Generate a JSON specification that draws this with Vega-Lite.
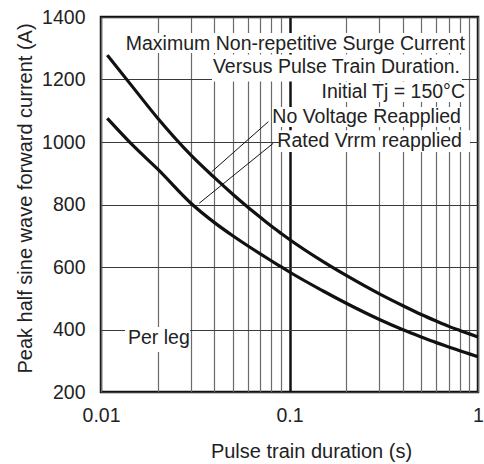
{
  "$schema": "https://vega.github.io/schema/vega-lite/v6.json",
  "width": 377,
  "height": 375,
  "autosize": {"type": "none"},
  "padding": {"left": 101, "top": 17, "right": 6, "bottom": 72},
  "background": "white",
  "config": {
    "view": {"stroke": "#111", "strokeWidth": 2.5},
    "font": "Liberation Sans",
    "axis": {
      "labelFont": "Liberation Sans",
      "titleFont": "Liberation Sans",
      "labelFontSize": 19.5,
      "titleFontSize": 20,
      "titleFontWeight": "normal",
      "labelColor": "#222",
      "titleColor": "#222",
      "ticks": false,
      "domain": false,
      "gridColor": "#6a6a6a",
      "gridWidth": 1.2,
      "gridOpacity": 1
    }
  },
  "datasets": {
    "curves": [
      {"series": "No Voltage Reapplied", "x": 0.0108, "y": 1278},
      {"series": "No Voltage Reapplied", "x": 0.015, "y": 1170},
      {"series": "No Voltage Reapplied", "x": 0.02, "y": 1076},
      {"series": "No Voltage Reapplied", "x": 0.03, "y": 958},
      {"series": "No Voltage Reapplied", "x": 0.04, "y": 886},
      {"series": "No Voltage Reapplied", "x": 0.05, "y": 833},
      {"series": "No Voltage Reapplied", "x": 0.06, "y": 792},
      {"series": "No Voltage Reapplied", "x": 0.07, "y": 759},
      {"series": "No Voltage Reapplied", "x": 0.08, "y": 731},
      {"series": "No Voltage Reapplied", "x": 0.09, "y": 708},
      {"series": "No Voltage Reapplied", "x": 0.1, "y": 688},
      {"series": "No Voltage Reapplied", "x": 0.15, "y": 618},
      {"series": "No Voltage Reapplied", "x": 0.2, "y": 573},
      {"series": "No Voltage Reapplied", "x": 0.3, "y": 514},
      {"series": "No Voltage Reapplied", "x": 0.4, "y": 476},
      {"series": "No Voltage Reapplied", "x": 0.5, "y": 448},
      {"series": "No Voltage Reapplied", "x": 0.6, "y": 427},
      {"series": "No Voltage Reapplied", "x": 0.7, "y": 410},
      {"series": "No Voltage Reapplied", "x": 0.8, "y": 397},
      {"series": "No Voltage Reapplied", "x": 0.9, "y": 386},
      {"series": "No Voltage Reapplied", "x": 1, "y": 376},
      {"series": "Rated Vrrm reapplied", "x": 0.0108, "y": 1076},
      {"series": "Rated Vrrm reapplied", "x": 0.015, "y": 985},
      {"series": "Rated Vrrm reapplied", "x": 0.02, "y": 913},
      {"series": "Rated Vrrm reapplied", "x": 0.03, "y": 804},
      {"series": "Rated Vrrm reapplied", "x": 0.04, "y": 742},
      {"series": "Rated Vrrm reapplied", "x": 0.05, "y": 700},
      {"series": "Rated Vrrm reapplied", "x": 0.06, "y": 668},
      {"series": "Rated Vrrm reapplied", "x": 0.07, "y": 642},
      {"series": "Rated Vrrm reapplied", "x": 0.08, "y": 620},
      {"series": "Rated Vrrm reapplied", "x": 0.09, "y": 601},
      {"series": "Rated Vrrm reapplied", "x": 0.1, "y": 584},
      {"series": "Rated Vrrm reapplied", "x": 0.15, "y": 524},
      {"series": "Rated Vrrm reapplied", "x": 0.2, "y": 484},
      {"series": "Rated Vrrm reapplied", "x": 0.3, "y": 432},
      {"series": "Rated Vrrm reapplied", "x": 0.4, "y": 399},
      {"series": "Rated Vrrm reapplied", "x": 0.5, "y": 376},
      {"series": "Rated Vrrm reapplied", "x": 0.6, "y": 358},
      {"series": "Rated Vrrm reapplied", "x": 0.7, "y": 344},
      {"series": "Rated Vrrm reapplied", "x": 0.8, "y": 332},
      {"series": "Rated Vrrm reapplied", "x": 0.9, "y": 322},
      {"series": "Rated Vrrm reapplied", "x": 1, "y": 313}
    ],
    "leaders": [
      {"x": 0.0772, "y": 1065, "x2": 0.0387, "y2": 905},
      {"x": 0.082, "y": 996, "x2": 0.0332, "y2": 804}
    ],
    "boxes": [
      {"x": 0.01341, "x2": 0.885, "y": 1349, "y2": 1285},
      {"x": 0.0388, "x2": 0.822, "y": 1280, "y2": 1194},
      {"x": 0.1488, "x2": 0.874, "y": 1192, "y2": 1128},
      {"x": 0.0808, "x2": 0.833, "y": 1112, "y2": 1048},
      {"x": 0.089, "x2": 0.907, "y": 1038, "y2": 968},
      {"x": 0.01341, "x2": 0.02967, "y": 408, "y2": 328}
    ],
    "notesRight": [
      {"x": 0.853, "y": 1315, "label": "Maximum Non-repetitive Surge Current"},
      {"x": 0.803, "y": 1240, "label": "Versus Pulse Train Duration."},
      {"x": 0.853, "y": 1161, "label": "Initial Tj = 150°C"},
      {"x": 0.812, "y": 1081, "label": "No Voltage Reapplied"},
      {"x": 0.822, "y": 1004, "label": "Rated Vrrm reapplied"}
    ],
    "notesLeft": [
      {"x": 0.0139, "y": 373, "label": "Per leg"}
    ]
  },
  "encoding": {
    "x": {
      "field": "x",
      "type": "quantitative",
      "scale": {"type": "log", "domain": [0.01, 1], "nice": false},
      "axis": {
        "title": "Pulse train duration (s)",
        "values": [0.01, 0.02, 0.03, 0.04, 0.05, 0.06, 0.07, 0.08, 0.09, 0.1, 0.2, 0.3, 0.4, 0.5, 0.6, 0.7, 0.8, 0.9, 1],
        "labelExpr": "datum.value == 0.01 ? '0.01' : (datum.value == 0.1 ? '0.1' : (datum.value == 1 ? '1' : ''))",
        "labelFlush": false,
        "labelOverlap": false,
        "labelPadding": 14,
        "titlePadding": 17,
        "titleX": 210,
        "gridColor": {"condition": {"test": "datum.value == 0.1", "value": "#111"}, "value": "#6a6a6a"},
        "gridWidth": {"condition": {"test": "datum.value == 0.1", "value": 2.5}, "value": 1.2}
      }
    },
    "y": {
      "field": "y",
      "type": "quantitative",
      "scale": {"domain": [200, 1400], "nice": false, "zero": false},
      "axis": {
        "title": "Peak half sine wave forward current (A)",
        "values": [200, 400, 600, 800, 1000, 1200, 1400],
        "format": "d",
        "labelPadding": 16,
        "titlePadding": 6,
        "titleY": 181,
        "gridColor": "#3a3a3a"
      }
    }
  },
  "layer": [
    {
      "data": {"name": "curves"},
      "mark": {"type": "line", "interpolate": "monotone", "color": "#111", "strokeWidth": 3.2},
      "encoding": {"detail": {"field": "series"}}
    },
    {
      "data": {"name": "leaders"},
      "mark": {"type": "rule", "color": "#111", "strokeWidth": 1},
      "encoding": {"x2": {"field": "x2"}, "y2": {"field": "y2"}}
    },
    {
      "data": {"name": "boxes"},
      "mark": {"type": "rect", "color": "white", "opacity": 1},
      "encoding": {"x2": {"field": "x2"}, "y2": {"field": "y2"}}
    },
    {
      "data": {"name": "notesRight"},
      "mark": {"type": "text", "align": "right", "baseline": "middle", "font": "Liberation Sans", "fontSize": 19.5, "color": "#222"},
      "encoding": {"text": {"field": "label"}}
    },
    {
      "data": {"name": "notesLeft"},
      "mark": {"type": "text", "align": "left", "baseline": "middle", "font": "Liberation Sans", "fontSize": 19.5, "color": "#222"},
      "encoding": {"text": {"field": "label"}}
    }
  ]
}
